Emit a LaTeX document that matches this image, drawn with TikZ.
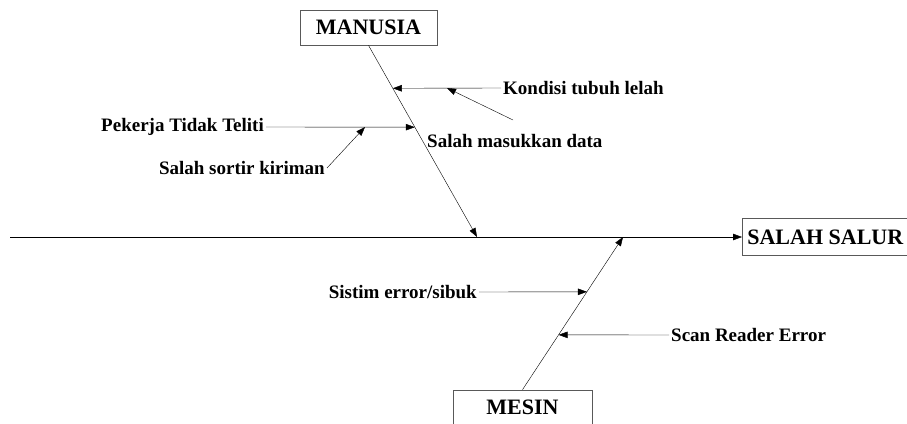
\documentclass[tikz,border=0pt]{standalone}
\usepackage{fontspec}
\setmainfont{Liberation Serif}
\usetikzlibrary{positioning, arrows.meta, calc}
\tikzset {
    ->,
    >={Triangle[length=9pt, width=6.5pt]},
    line width=0.8pt,
    draw=black!80,
    category/.style={draw=black!65, line width=0.7pt, inner sep=0pt,
        font=\fontsize{22}{26}\selectfont\bfseries},
    cause/.style={inner sep=2pt, font=\fontsize{19}{22}\selectfont\bfseries}
}

\begin{document}
\begin{tikzpicture}[x=1pt, y=-1pt]
    \useasboundingbox (0,0) rectangle (907,423);

    \node[category, minimum width=137pt, minimum height=35pt] (manusia) at (368.5,27.5) {MANUSIA};
    \node[category, minimum width=139pt, minimum height=35pt] (mesin) at (522.5,407.5) {MESIN};
    \node[category, anchor=west, minimum height=37pt, inner xsep=5pt] (salah) at (742,237) {\makebox[200pt][l]{SALAH SALUR}};

    \coordinate (tail) at (10,237);
    \coordinate (m1) at (477,237);
    \coordinate (m2) at (623,237);

    \draw (tail) -- (salah.west);
    \draw (manusia.south) -- (m1);
    \draw (mesin.north) -- (m2);

    \node[cause, anchor=west] (kondisi) at (501,88) {Kondisi tubuh lelah};
    \node[cause, anchor=west] (masukkan) at (425,141) {Salah masukkan data};
    \node[cause, anchor=east] (pekerja) at (266,127) {Pekerja Tidak Teliti};
    \node[cause, anchor=east] (sortir) at (327,168) {Salah sortir kiriman};
    \node[cause, anchor=east] (sistim) at (479,292) {Sistim error/sibuk};
    \node[cause, anchor=west] (scan) at (669,335) {Scan Reader Error};

    \coordinate (k1) at ($(manusia.south)!0.224!(m1)$);
    \coordinate (k2) at (447,88);
    \coordinate (tk2) at (513,120);
    \coordinate (p1) at ($(manusia.south)!0.427!(m1)$);
    \coordinate (p2) at (365,127);
    \coordinate (s1) at ($(mesin.north)!0.641!(m2)$);
    \coordinate (s2) at ($(mesin.north)!0.359!(m2)$);

    \draw (kondisi.west) -- (k1);
    \draw (tk2) -- (k2);
    \draw (pekerja.east) -- (p1);
    \draw (sortir.east) -- (p2);
    \draw (sistim.east) -- (s1);
    \draw (scan.west) -- (s2);
\end{tikzpicture}
\end{document}
